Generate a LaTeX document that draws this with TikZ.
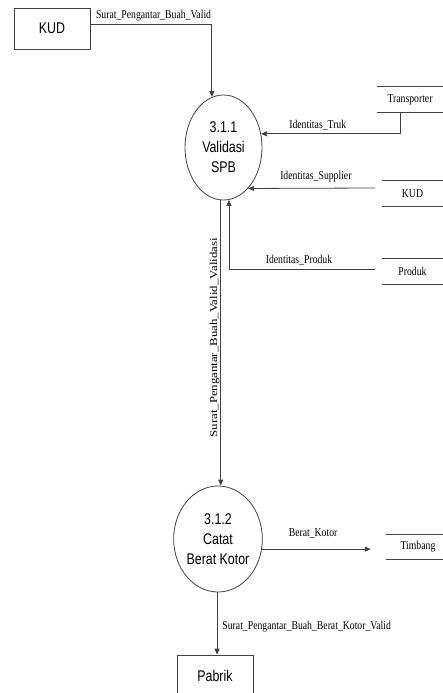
\documentclass[tikz,border=0pt]{standalone}
\usepackage{fontspec}
\usetikzlibrary{shapes.geometric,arrows.meta}
\newfontfamily\lblfont{Liberation Serif}[FakeStretch=0.81]
\newfontfamily\vlblfont{Liberation Serif}[FakeStretch=1.22]
\newfontfamily\procfont{Liberation Sans}[FakeStretch=0.8]
\begin{document}
\begin{tikzpicture}[x=1pt,y=-1pt,
  line/.style={draw=black!75, line width=0.8pt},
  flow/.style={line, -{Triangle[length=6pt,width=5pt]}},
  entity/.style={line, rectangle, minimum width=76pt, minimum height=41pt, inner sep=0pt,
    font=\procfont\fontsize{15.5}{18}\selectfont},
  process/.style={line, ellipse, minimum width=77pt, minimum height=105pt, inner sep=0pt,
    align=center, font=\procfont\fontsize{15.5}{20}\selectfont},
  store/.style={minimum height=25pt, inner sep=0pt, font=\lblfont\fontsize{12}{14}\selectfont},
  lbl/.style={inner sep=1pt, font=\lblfont\fontsize{12}{14}\selectfont},
  vlbl/.style={inner sep=1pt, font=\vlblfont\fontsize{10.5}{12}\selectfont,
    rotate=90, anchor=south, xshift=-2pt}
]
\useasboundingbox (0,0) rectangle (443,693);

% external entities
\node[entity] (kud) at (52,28.5) {KUD};
\node[entity, minimum height=42pt] (pabrik) at (215,676) {Pabrik};

% processes
\node[process] (p1) at (223.5,147.5) {3.1.1\\Validasi\\SPB};
\node[process, minimum height=106pt] (p2) at (218,539) {3.1.2\\Catat\\Berat Kotor};

% data stores (open on the right)
\node[store, minimum width=66pt] (trans) at (410,99.5) {Transporter};
\node[store, minimum width=61pt] (kuds) at (412.5,193.5) {KUD};
\node[store, minimum width=61pt] (prods) at (412.5,271.5) {Produk};
\node[store, minimum width=64pt, minimum height=24pt] (timb) at (418,547) {Timbang};
\foreach \s in {trans,kuds,prods,timb} {
  \draw[line] (\s.north west) -- ++(80pt,0);
  \draw[line] (\s.south west) -- ++(80pt,0);
}
\coordinate (timbin) at ([xshift=-15pt]timb.west);

% data flows
\draw[flow] ([yshift=4.5pt]kud.east) -| node[lbl, pos=0.26, above=1.5pt] {Surat\_Pengantar\_Buah\_Valid} (p1.103);
\draw[flow] ([xshift=-10pt]trans.south) |- node[lbl, pos=0.796, above=2.5pt] {Identitas\_Truk} (p1.20);
\draw[flow] ([shift={(-7pt,5.5pt)}]kuds.west) -- node[lbl, pos=0.465, above=4.5pt] {Identitas\_Supplier} (p1.-59);
\draw[flow] ([shift={(-7pt,2.5pt)}]prods.west) -| node[lbl, pos=0.26, above=2.5pt] {Identitas\_Produk} (p1.-84);
\draw[flow] (p1.-93) -- node[vlbl, pos=0.475] {Surat\_Pengantar\_Buah\_Valid\_Validasi} (p1.-93 |- p2.north);
\draw[flow] (p2.-13) -- node[lbl, pos=0.47, above=10pt] {Berat\_Kotor} (p2.-13 -| timbin);
\draw[flow] (p2.-91) -- node[lbl, pos=0.55, right=4pt] {Surat\_Pengantar\_Buah\_Berat\_Kotor\_Valid} (p2.-91 |- pabrik.north);
\end{tikzpicture}
\end{document}
